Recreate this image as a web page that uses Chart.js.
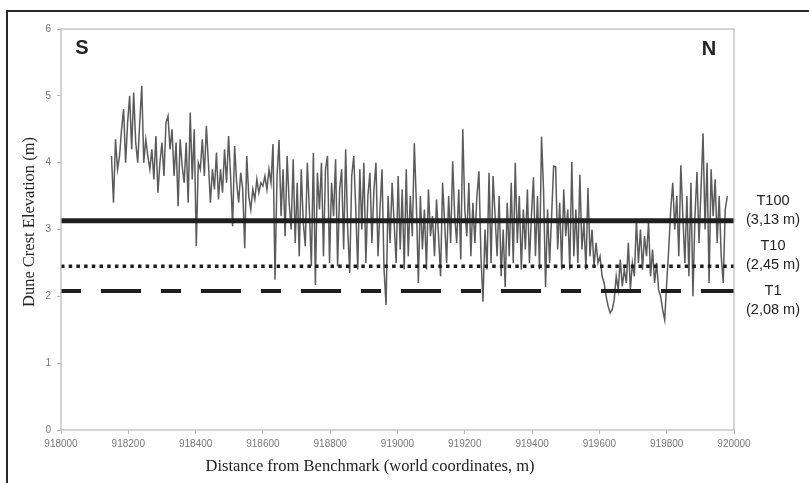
<!DOCTYPE html>
<html>
<head>
<meta charset="utf-8">
<script src="https://cdn.jsdelivr.net/npm/chart.js@4/dist/chart.umd.min.js"></script>
<style>
  html, body { margin: 0; padding: 0; background: #fff; }
  #chartDune { display: block; }
</style>
</head>
<body>
<canvas id="chartDune" width="809" height="483"></canvas>
<script>
// survey points along the dune crest, one every 6 m starting at 918150
const startDistance = 918150;
const sampleStep = 6;
const crestElevation = [
  4.1, 3.4, 4.35, 3.9, 4.1, 4.5, 4.8, 4.0, 4.6, 5.0,
  4.2, 5.05, 4.3, 4.0, 4.6, 5.15, 4.0, 4.35, 4.1, 3.9,
  4.2, 3.75, 4.4, 3.55, 4.0, 4.3, 3.8, 4.6, 4.7, 4.2,
  4.5, 3.8, 4.3, 3.35, 4.35, 3.95, 3.7, 4.3, 3.4, 4.75,
  3.75, 4.5, 2.75, 4.0, 3.9, 4.35, 3.8, 4.55, 4.0, 3.4,
  3.9, 3.6, 4.15, 3.45, 3.9, 3.55, 4.2, 3.7, 4.4, 3.8,
  3.05, 4.25, 3.7, 3.4, 3.85, 3.6, 2.72, 4.1, 3.5, 3.3,
  3.6, 3.45, 3.75, 3.55, 3.7, 3.65, 3.8, 3.6, 3.9, 3.7,
  4.28, 2.25, 3.8, 4.34, 3.2, 3.9, 2.9, 4.1, 3.4, 3.0,
  4.05, 2.8, 3.7, 2.6, 3.9, 3.1, 2.75, 4.0, 3.3, 2.45,
  4.15, 2.17, 3.85, 3.3, 4.0, 2.6, 3.9, 4.1, 2.5, 3.7,
  3.2, 4.05, 2.45, 3.6, 3.9, 2.7, 4.2, 3.0, 2.35, 3.8,
  4.1, 3.3, 2.4, 3.9, 3.0, 4.0, 2.5, 3.5, 3.85, 2.8,
  3.6, 4.0, 2.6, 3.3, 3.9, 2.4, 1.87, 3.5, 2.8, 3.7,
  3.1, 2.5, 3.8, 2.7, 3.6, 2.4, 3.9, 2.6, 3.5, 2.9,
  4.29, 3.4, 2.2, 3.5, 2.7, 3.3, 2.4, 3.6, 2.9, 3.2,
  2.6, 3.45, 2.9, 2.3, 3.7, 3.1, 2.5, 3.5, 2.8, 4.02,
  3.2, 2.8, 3.6, 2.55, 4.5, 3.3, 2.9, 3.7, 2.6, 3.4,
  2.8, 3.5, 3.87, 2.6, 1.92, 3.0, 2.4, 3.85, 2.5, 3.8,
  3.2, 2.6, 3.5, 2.3, 3.0, 2.14, 3.4, 2.6, 3.7, 2.5,
  4.0, 2.8, 3.5, 2.4, 3.3, 2.7, 3.6, 2.5, 3.2, 3.78,
  2.6, 3.5, 2.4, 4.39, 3.6, 2.14, 3.3, 2.5, 3.2, 3.95,
  3.94, 2.7, 3.4, 2.4, 3.6, 2.9, 3.3, 2.4, 4.01, 2.6,
  3.3, 2.5, 3.82, 2.7, 3.1, 2.4, 3.62, 2.6, 3.0, 2.45,
  2.8, 2.5, 2.6, 2.3, 2.2, 2.0, 1.85, 1.75, 1.8, 1.95,
  2.3, 2.1, 2.55, 2.15, 2.4, 2.2, 2.8, 2.1, 2.5, 2.3,
  3.13, 2.5, 3.0, 2.4, 2.9, 2.6, 3.1, 2.3, 2.7, 2.2,
  2.5, 2.1, 2.0, 1.8, 1.65, 2.2, 2.7, 3.3, 3.7, 3.0,
  3.5, 2.6, 3.96, 3.2, 2.5, 3.5, 2.3, 3.7, 2.0, 3.2,
  3.86, 2.8, 3.6, 4.44, 3.0, 4.0, 2.2, 3.9, 3.2, 3.75,
  2.8, 3.5, 2.6, 2.2, 3.3, 3.5
];

// return periods
const thresholdNames = ['T100', 'T10', 'T1'];
const thresholdValues = [3.13, 2.45, 2.08];
const thresholdTexts = ['(3,13 m)', '(2,45 m)', '(2,08 m)'];

const xMin = 918000, xMax = 920000;

let crestPoints = crestElevation.map((v, i) => {
  return { x: startDistance + i * sampleStep, y: v };
});

const lineStyles = [
  { borderWidth: 5, borderDash: [], borderColor: '#1e1e1e' },
  { borderWidth: 3.5, borderDash: [3.5, 4.2], borderColor: '#1e1e1e' },
  { borderWidth: 4, borderDash: [20, 20, 40, 20], borderColor: '#1e1e1e' }
];

let thresholdSets = thresholdValues.map((v, i) => {
  return {
    label: thresholdNames[i],
    data: [{ x: xMin, y: v }, { x: xMax, y: v }],
    borderColor: lineStyles[i].borderColor,
    borderWidth: lineStyles[i].borderWidth,
    borderDash: lineStyles[i].borderDash,
    borderCapStyle: 'butt',
    pointRadius: 0,
    order: 0
  };
});

const decorations = {
  id: 'decorations',
  beforeDraw(chart) {
    const ctx = chart.ctx;
    ctx.save();
    ctx.fillStyle = '#fff';
    ctx.fillRect(0, 0, chart.width, chart.height);
    // outer frame
    ctx.strokeStyle = '#2a2a2a';
    ctx.lineWidth = 2;
    ctx.beginPath();
    ctx.moveTo(7, chart.height);
    ctx.lineTo(7, 11);
    ctx.lineTo(chart.width, 11);
    ctx.stroke();
    ctx.restore();
  },
  afterDraw(chart) {
    const ctx = chart.ctx;
    const a = chart.chartArea;
    const yScale = chart.scales.y;
    ctx.save();
    // plot box
    ctx.strokeStyle = '#b8b8b8';
    ctx.lineWidth = 1.2;
    ctx.strokeRect(a.left, a.top, a.right - a.left, a.bottom - a.top);

    // S / N
    ctx.fillStyle = '#222';
    ctx.font = 'bold 20px "Liberation Sans", Arial, sans-serif';
    ctx.textAlign = 'center';
    ctx.textBaseline = 'middle';
    ctx.fillText('S', 82, 48);
    ctx.fillText('N', 709, 49);

    // threshold labels on the right
    ctx.font = '14.5px "Liberation Sans", Arial, sans-serif';
    thresholdValues.forEach((v, i) => {
      const py = yScale.getPixelForValue(v);
      let top = i < 2 ? py - 20 : py;
      ctx.fillText(thresholdNames[i], 773, top);
      ctx.fillText(thresholdTexts[i], 773, top + 19);
    });

    // axis titles
    ctx.font = '16.5px "Liberation Serif", "Times New Roman", serif';
    ctx.fillStyle = '#222';
    ctx.fillText('Distance from Benchmark (world coordinates, m)', 370, 467);
    ctx.translate(30, 222);
    ctx.rotate(-Math.PI / 2);
    ctx.fillText('Dune Crest Elevation (m)', 0, 0);
    ctx.restore();
  }
};

const config = {
  type: 'line',
  data: {
    datasets: [{
      label: 'Dune crest',
      data: crestPoints,
      borderColor: 'rgba(45, 45, 45, 0.78)',
      borderWidth: 1.5,
      pointRadius: 0,
      tension: 0,
      order: 1
    }].concat(thresholdSets)
  },
  options: {
    responsive: false,
    animation: false,
    layout: { padding: { left: 0, right: 75, top: 29, bottom: 0 } },
    plugins: {
      legend: { display: false },
      tooltip: { enabled: false }
    },
    scales: {
      x: {
        type: 'linear',
        min: xMin,
        max: xMax,
        border: { display: false },
        grid: { drawOnChartArea: false, tickLength: 4, color: '#b8b8b8' },
        ticks: {
          stepSize: 200,
          maxRotation: 0,
          padding: 4,
          color: '#777',
          font: { size: 10, family: '"Liberation Sans", Arial, sans-serif' },
          callback: (v) => String(v)
        },
        afterFit: (s) => { s.height = 53; }
      },
      y: {
        min: 0,
        max: 6,
        border: { display: false },
        grid: { drawOnChartArea: false, tickLength: 4, color: '#b8b8b8' },
        ticks: {
          stepSize: 1,
          padding: 6,
          color: '#777',
          font: { size: 10, family: '"Liberation Sans", Arial, sans-serif' }
        },
        afterFit: (s) => { s.width = 61; }
      }
    }
  },
  plugins: [decorations]
};

const chartDune = new Chart(document.getElementById('chartDune'), config);
</script>
</body>
</html>
